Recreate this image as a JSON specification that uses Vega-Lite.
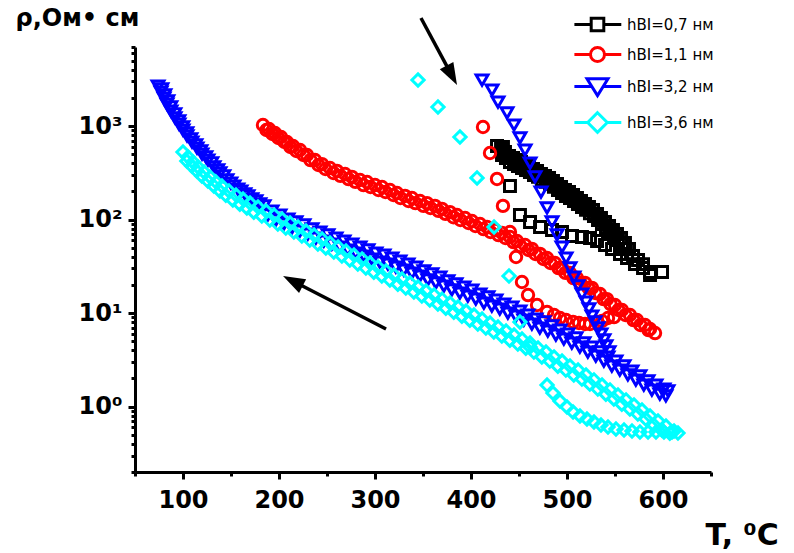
{
  "$schema": "https://vega.github.io/schema/vega-lite/v6.json",
  "width": 576,
  "height": 425,
  "autosize": "none",
  "padding": {"left": 135, "top": 47, "right": 83, "bottom": 81},
  "config": {"view": {"stroke": null}, "font": "DejaVu Sans"},
  "datasets": {
    "pts": [
      {"series":"0,7","T":427.1,"rho":612},{"series":"0,7","T":431.3,"rho":568},{"series":"0,7","T":435.4,"rho":527},{"series":"0,7","T":439.6,"rho":478},{"series":"0,7","T":443.8,"rho":455},{"series":"0,7","T":447.9,"rho":433},{"series":"0,7","T":452.1,"rho":412},{"series":"0,7","T":456.3,"rho":392},{"series":"0,7","T":460.4,"rho":374},{"series":"0,7","T":464.6,"rho":347},{"series":"0,7","T":468.8,"rho":331},{"series":"0,7","T":472.9,"rho":307},{"series":"0,7","T":477.1,"rho":293},{"series":"0,7","T":481.3,"rho":279},{"series":"0,7","T":485.4,"rho":259},{"series":"0,7","T":489.6,"rho":240},{"series":"0,7","T":493.8,"rho":223},{"series":"0,7","T":497.9,"rho":207},{"series":"0,7","T":502.1,"rho":197},{"series":"0,7","T":506.3,"rho":183},{"series":"0,7","T":510.4,"rho":170},{"series":"0,7","T":514.6,"rho":158},{"series":"0,7","T":518.8,"rho":147},{"series":"0,7","T":522.9,"rho":136},{"series":"0,7","T":527.1,"rho":126.5},{"series":"0,7","T":531.3,"rho":114.6},{"series":"0,7","T":535.4,"rho":104},{"series":"0,7","T":539.6,"rho":94.2},{"series":"0,7","T":543.8,"rho":85.4},{"series":"0,7","T":547.9,"rho":77.3},{"series":"0,7","T":552.1,"rho":70.0},{"series":"0,7","T":556.3,"rho":63.5},{"series":"0,7","T":560.4,"rho":56.1},{"series":"0,7","T":564.6,"rho":48.5},{"series":"0,7","T":568.8,"rho":40.8},{"series":"0,7","T":574.0,"rho":36.9},{"series":"0,7","T":579.2,"rho":33.4},{"series":"0,7","T":586.5,"rho":27.5},{"series":"0,7","T":599.0,"rho":27.5},
      {"series":"0,7","T":432.3,"rho":490},{"series":"0,7","T":436.4,"rho":455},{"series":"0,7","T":440.6,"rho":413},{"series":"0,7","T":444.8,"rho":393},{"series":"0,7","T":448.9,"rho":374},{"series":"0,7","T":453.1,"rho":356},{"series":"0,7","T":457.3,"rho":338},{"series":"0,7","T":461.4,"rho":323},{"series":"0,7","T":465.6,"rho":299},{"series":"0,7","T":469.8,"rho":286},{"series":"0,7","T":473.9,"rho":265},{"series":"0,7","T":478.1,"rho":253},{"series":"0,7","T":482.3,"rho":241},{"series":"0,7","T":486.4,"rho":224},{"series":"0,7","T":490.6,"rho":207},{"series":"0,7","T":494.8,"rho":192},{"series":"0,7","T":498.9,"rho":179},{"series":"0,7","T":503.1,"rho":170},{"series":"0,7","T":507.3,"rho":158},{"series":"0,7","T":511.4,"rho":147},{"series":"0,7","T":515.6,"rho":136},{"series":"0,7","T":519.8,"rho":127},{"series":"0,7","T":523.9,"rho":117},{"series":"0,7","T":528.1,"rho":109},{"series":"0,7","T":532.3,"rho":98.9},{"series":"0,7","T":536.4,"rho":89.8},{"series":"0,7","T":540.6,"rho":81.3},{"series":"0,7","T":544.8,"rho":73.7},{"series":"0,7","T":548.9,"rho":66.7},{"series":"0,7","T":553.1,"rho":60.4},{"series":"0,7","T":557.3,"rho":54.8},{"series":"0,7","T":561.4,"rho":48.4},
      {"series":"0,7","T":433.3,"rho":597},{"series":"0,7","T":440.6,"rho":228},{"series":"0,7","T":451.0,"rho":111.9},{"series":"0,7","T":461.5,"rho":94.2},{"series":"0,7","T":471.9,"rho":83.3},{"series":"0,7","T":484.4,"rho":77.3},{"series":"0,7","T":494.8,"rho":73.6},{"series":"0,7","T":505.2,"rho":66.7},{"series":"0,7","T":515.6,"rho":65.1},{"series":"0,7","T":524.0,"rho":63.5},{"series":"0,7","T":531.3,"rho":58.9},{"series":"0,7","T":539.6,"rho":53.5},{"series":"0,7","T":546.9,"rho":48.5},{"series":"0,7","T":555.2,"rho":42.9},{"series":"0,7","T":562.5,"rho":38.8},{"series":"0,7","T":570.8,"rho":33.4},{"series":"0,7","T":579.2,"rho":30.4},{"series":"0,7","T":586.5,"rho":25.5},
      {"series":"1,1","T":183.3,"rho":1026},{"series":"1,1","T":189.6,"rho":930},{"series":"1,1","T":195.8,"rho":843},{"series":"1,1","T":202.1,"rho":764},{"series":"1,1","T":208.3,"rho":675},{"series":"1,1","T":214.6,"rho":612},{"series":"1,1","T":221.9,"rho":554},{"series":"1,1","T":229.2,"rho":490},{"series":"1,1","T":237.5,"rho":433},{"series":"1,1","T":244.8,"rho":392},{"series":"1,1","T":253.1,"rho":356},{"series":"1,1","T":260.4,"rho":331},{"series":"1,1","T":268.8,"rho":307},{"series":"1,1","T":276.0,"rho":286},{"series":"1,1","T":284.4,"rho":265},{"series":"1,1","T":291.7,"rho":252},{"series":"1,1","T":300.0,"rho":234},{"series":"1,1","T":307.3,"rho":223},{"series":"1,1","T":315.6,"rho":207},{"series":"1,1","T":322.9,"rho":192},{"series":"1,1","T":331.3,"rho":179},{"series":"1,1","T":338.5,"rho":170},{"series":"1,1","T":346.9,"rho":158},{"series":"1,1","T":354.2,"rho":150},{"series":"1,1","T":362.5,"rho":140},{"series":"1,1","T":369.8,"rho":130},{"series":"1,1","T":378.1,"rho":120},{"series":"1,1","T":385.4,"rho":111.9},{"series":"1,1","T":393.8,"rho":104},{"series":"1,1","T":401.0,"rho":96.5},{"series":"1,1","T":409.4,"rho":89.6},{"series":"1,1","T":416.7,"rho":83.3},{"series":"1,1","T":425.0,"rho":77.3},{"series":"1,1","T":432.3,"rho":71.8},{"series":"1,1","T":440.6,"rho":65.1},{"series":"1,1","T":447.9,"rho":58.9},{"series":"1,1","T":456.3,"rho":53.5},{"series":"1,1","T":463.5,"rho":48.5},{"series":"1,1","T":471.9,"rho":42.9},{"series":"1,1","T":479.2,"rho":38.8},{"series":"1,1","T":487.5,"rho":34.3},{"series":"1,1","T":494.8,"rho":30.4},{"series":"1,1","T":503.1,"rho":26.8},{"series":"1,1","T":510.4,"rho":23.7},{"series":"1,1","T":518.8,"rho":21.0},{"series":"1,1","T":526.0,"rho":18.6},{"series":"1,1","T":534.4,"rho":16.0},{"series":"1,1","T":541.7,"rho":14.1},{"series":"1,1","T":550.0,"rho":12.2},{"series":"1,1","T":557.3,"rho":10.8},{"series":"1,1","T":565.6,"rho":9.54},{"series":"1,1","T":572.9,"rho":8.44},{"series":"1,1","T":581.3,"rho":7.46},{"series":"1,1","T":586.5,"rho":6.76},{"series":"1,1","T":591.7,"rho":6.12},
      {"series":"1,1","T":186.9,"rho":907},{"series":"1,1","T":193.2,"rho":822},{"series":"1,1","T":199.4,"rho":745},{"series":"1,1","T":205.7,"rho":675},{"series":"1,1","T":211.9,"rho":597},{"series":"1,1","T":218.2,"rho":541},{"series":"1,1","T":225.5,"rho":490},{"series":"1,1","T":232.8,"rho":433},{"series":"1,1","T":241.1,"rho":383},{"series":"1,1","T":248.4,"rho":347},{"series":"1,1","T":256.7,"rho":315},{"series":"1,1","T":264.0,"rho":293},{"series":"1,1","T":272.4,"rho":271},{"series":"1,1","T":279.6,"rho":253},{"series":"1,1","T":288.0,"rho":234},{"series":"1,1","T":295.3,"rho":223},{"series":"1,1","T":303.6,"rho":207},{"series":"1,1","T":310.9,"rho":197},{"series":"1,1","T":319.2,"rho":183},{"series":"1,1","T":326.5,"rho":170},{"series":"1,1","T":334.9,"rho":158},{"series":"1,1","T":342.1,"rho":150},{"series":"1,1","T":350.5,"rho":140},{"series":"1,1","T":357.8,"rho":133},{"series":"1,1","T":366.1,"rho":124},{"series":"1,1","T":373.4,"rho":115},{"series":"1,1","T":381.7,"rho":106},{"series":"1,1","T":389.0,"rho":98.9},{"series":"1,1","T":397.4,"rho":91.9},{"series":"1,1","T":404.6,"rho":85.3},{"series":"1,1","T":413.0,"rho":79.2},{"series":"1,1","T":420.3,"rho":73.6},{"series":"1,1","T":428.6,"rho":68.3},{"series":"1,1","T":435.9,"rho":63.5},{"series":"1,1","T":444.2,"rho":57.5},{"series":"1,1","T":451.5,"rho":52.1},{"series":"1,1","T":459.9,"rho":47.3},{"series":"1,1","T":467.1,"rho":42.9},{"series":"1,1","T":475.5,"rho":37.9},{"series":"1,1","T":482.8,"rho":34.3},{"series":"1,1","T":491.1,"rho":30.3},{"series":"1,1","T":498.4,"rho":26.9},{"series":"1,1","T":506.7,"rho":23.7},{"series":"1,1","T":514.0,"rho":21.0},{"series":"1,1","T":522.4,"rho":18.6},{"series":"1,1","T":529.6,"rho":16.4},{"series":"1,1","T":538.0,"rho":14.1},{"series":"1,1","T":545.3,"rho":12.5},{"series":"1,1","T":553.6,"rho":10.8},{"series":"1,1","T":560.9,"rho":9.55},{"series":"1,1","T":569.2,"rho":8.43},{"series":"1,1","T":576.5,"rho":7.46},{"series":"1,1","T":584.9,"rho":6.59},
      {"series":"1,1","T":412.5,"rho":977},{"series":"1,1","T":419.8,"rho":515},{"series":"1,1","T":427.1,"rho":272},{"series":"1,1","T":433.3,"rho":140},{"series":"1,1","T":440.6,"rho":73.6},{"series":"1,1","T":446.9,"rho":39.8},{"series":"1,1","T":453.1,"rho":21.5},{"series":"1,1","T":459.4,"rho":15.6},{"series":"1,1","T":468.8,"rho":12.2},{"series":"1,1","T":479.2,"rho":10.3},{"series":"1,1","T":486.5,"rho":9.54},{"series":"1,1","T":492.7,"rho":8.86},{"series":"1,1","T":499.0,"rho":8.44},{"series":"1,1","T":506.3,"rho":8.04},{"series":"1,1","T":512.5,"rho":7.84},{"series":"1,1","T":518.8,"rho":7.65},{"series":"1,1","T":524.0,"rho":7.65},{"series":"1,1","T":531.3,"rho":8.04},{"series":"1,1","T":536.5,"rho":8.23},{"series":"1,1","T":542.7,"rho":8.86},{"series":"1,1","T":549.0,"rho":9.07},
      {"series":"3,2","T":74.0,"rho":2679},{"series":"3,2","T":77.1,"rho":2311},{"series":"3,2","T":80.2,"rho":1994},{"series":"3,2","T":83.3,"rho":1720},{"series":"3,2","T":87.5,"rho":1448},{"series":"3,2","T":91.7,"rho":1219},{"series":"3,2","T":95.8,"rho":1051},{"series":"3,2","T":100.0,"rho":907},{"series":"3,2","T":104.2,"rho":783},{"series":"3,2","T":109.4,"rho":675},{"series":"3,2","T":114.6,"rho":582},{"series":"3,2","T":119.8,"rho":502},{"series":"3,2","T":126.0,"rho":433},{"series":"3,2","T":132.3,"rho":365},{"series":"3,2","T":138.5,"rho":315},{"series":"3,2","T":145.8,"rho":265},{"series":"3,2","T":153.1,"rho":228},{"series":"3,2","T":160.4,"rho":202},{"series":"3,2","T":167.7,"rho":179},{"series":"3,2","T":176.0,"rho":158},{"series":"3,2","T":184.4,"rho":140},{"series":"3,2","T":192.7,"rho":123.4},{"series":"3,2","T":201.0,"rho":111.9},{"series":"3,2","T":209.4,"rho":101.4},{"series":"3,2","T":217.7,"rho":94.2},{"series":"3,2","T":226.0,"rho":87.5},{"series":"3,2","T":234.4,"rho":79.3},{"series":"3,2","T":242.7,"rho":73.6},{"series":"3,2","T":251.0,"rho":68.4},{"series":"3,2","T":259.4,"rho":63.5},{"series":"3,2","T":267.7,"rho":58.9},{"series":"3,2","T":276.0,"rho":54.7},{"series":"3,2","T":284.4,"rho":50.9},{"series":"3,2","T":292.7,"rho":47.3},{"series":"3,2","T":301.0,"rho":43.9},{"series":"3,2","T":309.4,"rho":41.8},{"series":"3,2","T":317.7,"rho":38.8},{"series":"3,2","T":326.0,"rho":36.0},{"series":"3,2","T":334.4,"rho":33.4},{"series":"3,2","T":342.7,"rho":31.1},{"series":"3,2","T":351.0,"rho":28.2},{"series":"3,2","T":359.4,"rho":26.2},{"series":"3,2","T":367.7,"rho":24.3},{"series":"3,2","T":376.0,"rho":22.1},{"series":"3,2","T":384.4,"rho":20.5},{"series":"3,2","T":392.7,"rho":19.0},{"series":"3,2","T":401.0,"rho":17.65},{"series":"3,2","T":409.4,"rho":16.0},{"series":"3,2","T":417.7,"rho":14.9},{"series":"3,2","T":426.0,"rho":13.8},{"series":"3,2","T":434.4,"rho":12.5},{"series":"3,2","T":442.7,"rho":11.6},{"series":"3,2","T":451.0,"rho":10.5},{"series":"3,2","T":459.4,"rho":9.54},{"series":"3,2","T":467.7,"rho":8.64},{"series":"3,2","T":476.0,"rho":8.04},{"series":"3,2","T":484.4,"rho":7.28},{"series":"3,2","T":492.7,"rho":6.59},{"series":"3,2","T":501.0,"rho":5.97},{"series":"3,2","T":509.4,"rho":5.42},{"series":"3,2","T":517.7,"rho":4.79},{"series":"3,2","T":526.0,"rho":4.34},{"series":"3,2","T":534.4,"rho":3.84},{"series":"3,2","T":542.7,"rho":3.39},{"series":"3,2","T":551.0,"rho":3.07},{"series":"3,2","T":559.4,"rho":2.72},{"series":"3,2","T":567.7,"rho":2.40},{"series":"3,2","T":576.0,"rho":2.13},{"series":"3,2","T":584.4,"rho":1.88},{"series":"3,2","T":592.7,"rho":1.70},{"series":"3,2","T":601.0,"rho":1.54},{"series":"3,2","T":605.2,"rho":1.47},
      {"series":"3,2","T":78.0,"rho":2491},{"series":"3,2","T":81.1,"rho":2149},{"series":"3,2","T":84.2,"rho":1854},{"series":"3,2","T":87.3,"rho":1600},{"series":"3,2","T":91.5,"rho":1347},{"series":"3,2","T":95.7,"rho":1134},{"series":"3,2","T":99.8,"rho":977},{"series":"3,2","T":104.0,"rho":844},{"series":"3,2","T":108.2,"rho":728},{"series":"3,2","T":113.4,"rho":628},{"series":"3,2","T":118.6,"rho":541},{"series":"3,2","T":123.8,"rho":467},{"series":"3,2","T":130.0,"rho":403},{"series":"3,2","T":136.3,"rho":339},{"series":"3,2","T":142.5,"rho":293},{"series":"3,2","T":149.8,"rho":246},{"series":"3,2","T":157.1,"rho":212},{"series":"3,2","T":164.4,"rho":188},{"series":"3,2","T":171.7,"rho":166},{"series":"3,2","T":180.0,"rho":147},
      {"series":"3,2","T":188.4,"rho":112},{"series":"3,2","T":196.7,"rho":98.7},{"series":"3,2","T":205.0,"rho":89.5},{"series":"3,2","T":213.4,"rho":81.1},{"series":"3,2","T":221.7,"rho":75.4},{"series":"3,2","T":230.0,"rho":70.0},{"series":"3,2","T":238.4,"rho":63.4},{"series":"3,2","T":246.7,"rho":58.9},{"series":"3,2","T":255.0,"rho":54.7},{"series":"3,2","T":263.4,"rho":50.8},{"series":"3,2","T":271.7,"rho":47.1},{"series":"3,2","T":280.0,"rho":43.8},{"series":"3,2","T":288.4,"rho":40.7},{"series":"3,2","T":296.7,"rho":37.8},{"series":"3,2","T":305.0,"rho":35.1},{"series":"3,2","T":313.4,"rho":33.4},{"series":"3,2","T":321.7,"rho":31.0},{"series":"3,2","T":330.0,"rho":28.8},{"series":"3,2","T":338.4,"rho":26.7},{"series":"3,2","T":346.7,"rho":24.9},{"series":"3,2","T":355.0,"rho":22.6},{"series":"3,2","T":363.4,"rho":21.0},{"series":"3,2","T":371.7,"rho":19.4},{"series":"3,2","T":380.0,"rho":17.7},{"series":"3,2","T":388.4,"rho":16.4},{"series":"3,2","T":396.7,"rho":15.2},{"series":"3,2","T":405.0,"rho":14.1},{"series":"3,2","T":413.4,"rho":12.8},{"series":"3,2","T":421.7,"rho":11.9},{"series":"3,2","T":430.0,"rho":11.0},{"series":"3,2","T":438.4,"rho":10.0},{"series":"3,2","T":446.7,"rho":9.28},{"series":"3,2","T":455.0,"rho":8.40},{"series":"3,2","T":463.4,"rho":7.63},{"series":"3,2","T":471.7,"rho":6.91},{"series":"3,2","T":480.0,"rho":6.43},{"series":"3,2","T":488.4,"rho":5.82},{"series":"3,2","T":496.7,"rho":5.27},{"series":"3,2","T":505.0,"rho":4.78},{"series":"3,2","T":513.4,"rho":4.34},{"series":"3,2","T":521.7,"rho":3.83},{"series":"3,2","T":530.0,"rho":3.47},{"series":"3,2","T":538.4,"rho":3.07},{"series":"3,2","T":546.7,"rho":2.71},{"series":"3,2","T":555.0,"rho":2.46},{"series":"3,2","T":563.4,"rho":2.18},{"series":"3,2","T":571.7,"rho":1.92},{"series":"3,2","T":580.0,"rho":1.70},{"series":"3,2","T":588.4,"rho":1.50},{"series":"3,2","T":596.7,"rho":1.36},{"series":"3,2","T":603.0,"rho":1.30},
      {"series":"3,2","T":411.5,"rho":3106},{"series":"3,2","T":421.9,"rho":2428},{"series":"3,2","T":428.1,"rho":1807},{"series":"3,2","T":437.5,"rho":1379},{"series":"3,2","T":444.8,"rho":1026},{"series":"3,2","T":451.0,"rho":745},{"series":"3,2","T":456.3,"rho":554},{"series":"3,2","T":461.5,"rho":402},{"series":"3,2","T":466.7,"rho":286},{"series":"3,2","T":472.9,"rho":197},{"series":"3,2","T":479.2,"rho":133},{"series":"3,2","T":484.4,"rho":94.2},{"series":"3,2","T":489.6,"rho":68.4},{"series":"3,2","T":494.8,"rho":50.9},{"series":"3,2","T":499.0,"rho":38.8},{"series":"3,2","T":503.1,"rho":30.4},{"series":"3,2","T":507.3,"rho":24.3},{"series":"3,2","T":511.5,"rho":19.5},{"series":"3,2","T":515.6,"rho":16.0},{"series":"3,2","T":519.8,"rho":13.1},{"series":"3,2","T":522.9,"rho":11.1},{"series":"3,2","T":526.0,"rho":9.31},{"series":"3,2","T":529.2,"rho":8.04},{"series":"3,2","T":532.3,"rho":6.93},{"series":"3,2","T":535.4,"rho":5.97},{"series":"3,2","T":538.5,"rho":5.16},{"series":"3,2","T":540.6,"rho":4.45},{"series":"3,2","T":543.8,"rho":3.84},
      {"series":"3,6","T":100.0,"rho":527},{"series":"3,6","T":105.2,"rho":466},{"series":"3,6","T":110.4,"rho":412},{"series":"3,6","T":115.6,"rho":365},{"series":"3,6","T":121.9,"rho":323},{"series":"3,6","T":128.1,"rho":286},{"series":"3,6","T":134.4,"rho":252},{"series":"3,6","T":140.6,"rho":228},{"series":"3,6","T":147.9,"rho":202},{"series":"3,6","T":155.2,"rho":183},{"series":"3,6","T":162.5,"rho":166},{"series":"3,6","T":169.8,"rho":150},{"series":"3,6","T":178.1,"rho":136},{"series":"3,6","T":186.5,"rho":123.4},{"series":"3,6","T":194.8,"rho":111.9},{"series":"3,6","T":203.1,"rho":101.4},{"series":"3,6","T":211.5,"rho":91.9},{"series":"3,6","T":219.8,"rho":83.3},{"series":"3,6","T":228.1,"rho":75.4},{"series":"3,6","T":236.5,"rho":68.4},{"series":"3,6","T":244.8,"rho":62.0},{"series":"3,6","T":253.1,"rho":56.1},{"series":"3,6","T":261.5,"rho":50.9},{"series":"3,6","T":269.8,"rho":46.1},{"series":"3,6","T":278.1,"rho":41.8},{"series":"3,6","T":286.5,"rho":37.9},{"series":"3,6","T":294.8,"rho":34.3},{"series":"3,6","T":303.1,"rho":31.1},{"series":"3,6","T":311.5,"rho":28.2},{"series":"3,6","T":319.8,"rho":25.5},{"series":"3,6","T":328.1,"rho":23.1},{"series":"3,6","T":336.5,"rho":21.0},{"series":"3,6","T":344.8,"rho":19.0},{"series":"3,6","T":353.1,"rho":17.2},{"series":"3,6","T":361.5,"rho":15.6},{"series":"3,6","T":369.8,"rho":14.1},{"series":"3,6","T":378.1,"rho":12.8},{"series":"3,6","T":386.5,"rho":11.6},{"series":"3,6","T":394.8,"rho":10.5},{"series":"3,6","T":403.1,"rho":9.54},{"series":"3,6","T":411.5,"rho":8.64},{"series":"3,6","T":419.8,"rho":7.84},{"series":"3,6","T":428.1,"rho":7.10},{"series":"3,6","T":436.5,"rho":6.43},{"series":"3,6","T":444.8,"rho":5.83},{"series":"3,6","T":453.1,"rho":5.28},{"series":"3,6","T":461.5,"rho":4.79},{"series":"3,6","T":469.8,"rho":4.24},{"series":"3,6","T":478.1,"rho":3.84},{"series":"3,6","T":486.5,"rho":3.39},{"series":"3,6","T":494.8,"rho":3.07},{"series":"3,6","T":503.1,"rho":2.72},{"series":"3,6","T":511.5,"rho":2.46},{"series":"3,6","T":519.8,"rho":2.18},{"series":"3,6","T":528.1,"rho":1.93},{"series":"3,6","T":536.5,"rho":1.70},{"series":"3,6","T":544.8,"rho":1.51},{"series":"3,6","T":553.1,"rho":1.33},{"series":"3,6","T":561.5,"rho":1.18},{"series":"3,6","T":569.8,"rho":1.04},{"series":"3,6","T":578.1,"rho":0.920},{"series":"3,6","T":586.5,"rho":0.794},{"series":"3,6","T":594.8,"rho":0.702},{"series":"3,6","T":603.1,"rho":0.621},{"series":"3,6","T":611.5,"rho":0.548},{"series":"3,6","T":615.6,"rho":0.522},
      {"series":"3,6","T":104.0,"rho":422},{"series":"3,6","T":109.2,"rho":373},{"series":"3,6","T":114.4,"rho":330},{"series":"3,6","T":119.6,"rho":292},{"series":"3,6","T":125.9,"rho":258},{"series":"3,6","T":132.1,"rho":229},{"series":"3,6","T":138.4,"rho":202},{"series":"3,6","T":144.6,"rho":182},{"series":"3,6","T":151.9,"rho":162},{"series":"3,6","T":159.2,"rho":146},{"series":"3,6","T":166.5,"rho":133},{"series":"3,6","T":173.8,"rho":120},{"series":"3,6","T":182.1,"rho":109},{"series":"3,6","T":190.5,"rho":98.7},{"series":"3,6","T":198.8,"rho":89.5},{"series":"3,6","T":207.1,"rho":81.1},{"series":"3,6","T":215.5,"rho":73.5},{"series":"3,6","T":223.8,"rho":66.6},{"series":"3,6","T":232.1,"rho":60.3},{"series":"3,6","T":240.5,"rho":54.7},{"series":"3,6","T":248.8,"rho":49.6},{"series":"3,6","T":257.1,"rho":44.9},{"series":"3,6","T":265.5,"rho":40.7},{"series":"3,6","T":273.8,"rho":36.9},{"series":"3,6","T":282.1,"rho":33.4},{"series":"3,6","T":290.5,"rho":30.3},{"series":"3,6","T":298.8,"rho":27.4},{"series":"3,6","T":307.1,"rho":24.9},{"series":"3,6","T":315.5,"rho":22.6},{"series":"3,6","T":323.8,"rho":20.4},{"series":"3,6","T":332.1,"rho":18.5},{"series":"3,6","T":340.5,"rho":16.8},{"series":"3,6","T":348.8,"rho":15.2},{"series":"3,6","T":357.1,"rho":13.8},{"series":"3,6","T":365.5,"rho":12.5},{"series":"3,6","T":373.8,"rho":11.3},{"series":"3,6","T":382.1,"rho":10.2},{"series":"3,6","T":390.5,"rho":9.28},{"series":"3,6","T":398.8,"rho":8.40},{"series":"3,6","T":407.1,"rho":7.63},{"series":"3,6","T":415.5,"rho":6.91},{"series":"3,6","T":423.8,"rho":6.27},{"series":"3,6","T":432.1,"rho":5.68},{"series":"3,6","T":440.5,"rho":5.14},{"series":"3,6","T":448.8,"rho":4.66},{"series":"3,6","T":457.1,"rho":4.22},{"series":"3,6","T":465.5,"rho":3.83},{"series":"3,6","T":473.8,"rho":3.39},{"series":"3,6","T":482.1,"rho":3.07},{"series":"3,6","T":490.5,"rho":2.71},{"series":"3,6","T":498.8,"rho":2.46},{"series":"3,6","T":507.1,"rho":2.18},{"series":"3,6","T":515.5,"rho":1.97},{"series":"3,6","T":523.8,"rho":1.74},{"series":"3,6","T":532.1,"rho":1.54},{"series":"3,6","T":540.5,"rho":1.36},{"series":"3,6","T":548.8,"rho":1.21},{"series":"3,6","T":557.1,"rho":1.06},{"series":"3,6","T":565.5,"rho":0.944},{"series":"3,6","T":573.8,"rho":0.832},{"series":"3,6","T":582.1,"rho":0.736},{"series":"3,6","T":590.5,"rho":0.635},{"series":"3,6","T":598.8,"rho":0.562},{"series":"3,6","T":607.1,"rho":0.52},
      {"series":"3,6","T":344.8,"rho":3106},{"series":"3,6","T":365.6,"rho":1597},{"series":"3,6","T":388.5,"rho":764},{"series":"3,6","T":406.3,"rho":279},{"series":"3,6","T":424.0,"rho":83.3},{"series":"3,6","T":439.6,"rho":24.9},{"series":"3,6","T":451.0,"rho":8.04},{"series":"3,6","T":461.5,"rho":4.34},{"series":"3,6","T":479.2,"rho":1.70},{"series":"3,6","T":485.4,"rho":1.40},{"series":"3,6","T":492.7,"rho":1.15},{"series":"3,6","T":500.0,"rho":0.990},{"series":"3,6","T":506.3,"rho":0.876},{"series":"3,6","T":513.5,"rho":0.794},{"series":"3,6","T":520.8,"rho":0.737},{"series":"3,6","T":528.1,"rho":0.684},{"series":"3,6","T":535.4,"rho":0.636},{"series":"3,6","T":542.7,"rho":0.605},{"series":"3,6","T":551.0,"rho":0.576},{"series":"3,6","T":559.4,"rho":0.562},{"series":"3,6","T":567.7,"rho":0.548},{"series":"3,6","T":576.0,"rho":0.536},{"series":"3,6","T":584.4,"rho":0.536},{"series":"3,6","T":592.7,"rho":0.536},{"series":"3,6","T":601.0,"rho":0.536},{"series":"3,6","T":609.4,"rho":0.536}
    ],
    "legendrows": [{"series":"0,7"},{"series":"1,1"},{"series":"3,2"},{"series":"3,6"}],
    "arrows": [
      {"arrow":"heating","T":347.9,"rho":14289,"T2":380.0,"rho2":3486},
      {"arrow":"cooling","T":311.5,"rho":6.76,"T2":214.4,"rho2":22.03}
    ]
  },
  "resolve": {"scale": {"shape": "independent", "color": "independent", "size": "independent"}, "legend": {"shape": "independent", "color": "independent", "size": "independent"}},
  "layer": [
    {
      "data": {"name": "pts"},
      "mark": {"type": "point", "filled": false, "strokeWidth": 3, "opacity": 1},
      "encoding": {
        "x": {"field": "T", "type": "quantitative", "title": "T, ⁰C",
          "scale": {"type": "linear", "domain": [50, 650], "nice": false, "zero": false},
          "axis": {"values": [50,100,150,200,250,300,350,400,450,500,550,600,650], "format": "d",
            "labelExpr": "datum.value % 100 === 0 ? datum.label : ''",
            "grid": false, "domainColor": "black", "domainWidth": 3, "tickColor": "black", "tickWidth": 3,
            "tickSize": {"condition": {"test": "datum.value % 100 === 0", "value": 7}, "value": 4},
            "labelFont": "DejaVu Sans", "labelFontWeight": "bold", "labelFontSize": 24, "labelColor": "black", "labelPadding": 9,
            "labelOverlap": false, "labelFlush": false, "labelBound": false,
            "titleFont": "DejaVu Sans", "titleFontWeight": "bold", "titleFontSize": 30, "titleColor": "black",
            "titleX": 570, "titleY": 72, "titleAlign": "left", "titleBaseline": "alphabetic", "titleAnchor": null}},
        "y": {"field": "rho", "type": "quantitative", "title": "ρ,Ом• см",
          "scale": {"type": "log", "domain": [0.2, 7000], "nice": false},
          "axis": {"values": [0.2,0.3,0.4,0.5,0.6,0.7,0.8,0.9,1,2,3,4,5,6,7,8,9,10,20,30,40,50,60,70,80,90,100,200,300,400,500,600,700,800,900,1000,2000,3000,4000,5000,6000,7000],
            "labelExpr": "datum.value === 1000 ? '10³' : datum.value === 100 ? '10²' : datum.value === 10 ? '10¹' : datum.value === 1 ? '10⁰' : ''",
            "grid": false, "domainColor": "black", "domainWidth": 3, "tickColor": "black", "tickWidth": 3,
            "tickSize": {"condition": {"test": "datum.value === 1 || datum.value === 10 || datum.value === 100 || datum.value === 1000", "value": 7}, "value": 4},
            "labelFont": "DejaVu Sans", "labelFontWeight": "bold", "labelFontSize": 24, "labelColor": "black", "labelPadding": 6,
            "labelOverlap": false, "labelFlush": false, "labelBound": false,
            "titleFont": "DejaVu Sans", "titleFontWeight": "bold", "titleFontSize": 24, "titleColor": "black",
            "titleAngle": 0, "titleX": -120, "titleY": -22, "titleAlign": "left", "titleBaseline": "alphabetic", "titleAnchor": null}},
        "color": {"field": "series", "type": "nominal", "legend": null,
          "scale": {"domain": ["0,7","1,1","3,2","3,6"], "range": ["#000000","#ff0000","#0000ff","#00ffff"]}},
        "shape": {"field": "series", "type": "nominal", "legend": null,
          "scale": {"domain": ["0,7","1,1","3,2","3,6"], "range": ["square","circle","triangle-down","diamond"]}},
        "size": {"field": "series", "type": "nominal", "legend": null,
          "scale": {"domain": ["0,7","1,1","3,2","3,6"], "range": [120, 150, 300, 400]}}
      }
    },
    {
      "data": {"name": "legendrows"},
      "transform": [{"filter": "datum.T > 0"}],
      "mark": {"type": "point", "filled": false, "strokeWidth": 3, "opacity": 1},
      "encoding": {
        "x": {"field": "T", "type": "quantitative", "title": "T, ⁰C", "scale": {"type": "linear", "domain": [50, 650], "nice": false, "zero": false}},
        "y": {"field": "rho", "type": "quantitative", "title": "ρ,Ом• см", "scale": {"type": "log", "domain": [0.2, 7000], "nice": false}},
        "color": {"field": "series", "type": "nominal",
          "scale": {"domain": ["0,7","1,1","3,2","3,6"], "range": ["#000000","#ff0000","#0000ff","#00ffff"]},
          "legend": {"title": null, "orient": "none", "legendX": 454, "legendY": -31, "padding": 0, "rowPadding": 4,
            "symbolSize": 196, "symbolStrokeWidth": 3, "symbolFillColor": "white", "labelOffset": 21,
            "labelFont": "DejaVu Sans", "labelFontSize": 15, "labelColor": "black",
            "labelExpr": "'hBI=' + datum.label + ' нм'"}},
        "shape": {"field": "series", "type": "nominal",
          "scale": {"domain": ["0,7","1,1","3,2","3,6"], "range": [
            "M-3.3,0H-0.9M0.9,0H3.4M-0.9,-0.9H0.9V0.9H-0.9Z",
            "M-3.3,0H-1M1,0H3.4M-1,0A1,1,0,1,0,1,0A1,1,0,1,0,-1,0Z",
            "M-3.3,0H-0.81M0.81,0H3.4M-1.5,-1.1H1.5L0,1.3Z",
            "M-3.3,0H-1.4M1.4,0H3.4M0,-1.4L1.4,0L0,1.4L-1.4,0Z"]},
          "legend": {"title": null, "orient": "none", "legendX": 454, "legendY": -31, "padding": 0, "rowPadding": 4,
            "symbolSize": 196, "symbolStrokeWidth": 3, "symbolFillColor": "white", "labelOffset": 21,
            "labelFont": "DejaVu Sans", "labelFontSize": 15, "labelColor": "black",
            "labelExpr": "'hBI=' + datum.label + ' нм'"}}
      }
    },
    {
      "data": {"name": "arrows"},
      "mark": {"type": "rule", "strokeWidth": 3.5, "color": "black"},
      "encoding": {
        "x": {"field": "T", "type": "quantitative", "title": "T, ⁰C", "scale": {"type": "linear", "domain": [50, 650], "nice": false, "zero": false}},
        "y": {"field": "rho", "type": "quantitative", "title": "ρ,Ом• см", "scale": {"type": "log", "domain": [0.2, 7000], "nice": false}},
        "x2": {"field": "T2"},
        "y2": {"field": "rho2"}
      }
    },
    {
      "data": {"name": "arrows"},
      "mark": {"type": "point", "shape": "M0,-1L0.7,1L-0.7,1Z", "filled": true, "color": "black", "opacity": 1, "size": 484, "strokeWidth": 0},
      "encoding": {
        "x": {"field": "T2", "type": "quantitative", "title": "T, ⁰C", "scale": {"type": "linear", "domain": [50, 650], "nice": false, "zero": false}},
        "y": {"field": "rho2", "type": "quantitative", "title": "ρ,Ом• см", "scale": {"type": "log", "domain": [0.2, 7000], "nice": false}},
        "angle": {"condition": {"test": "datum.arrow === 'heating'", "value": 151.7}, "value": 297.2}
      }
    }
  ]
}
